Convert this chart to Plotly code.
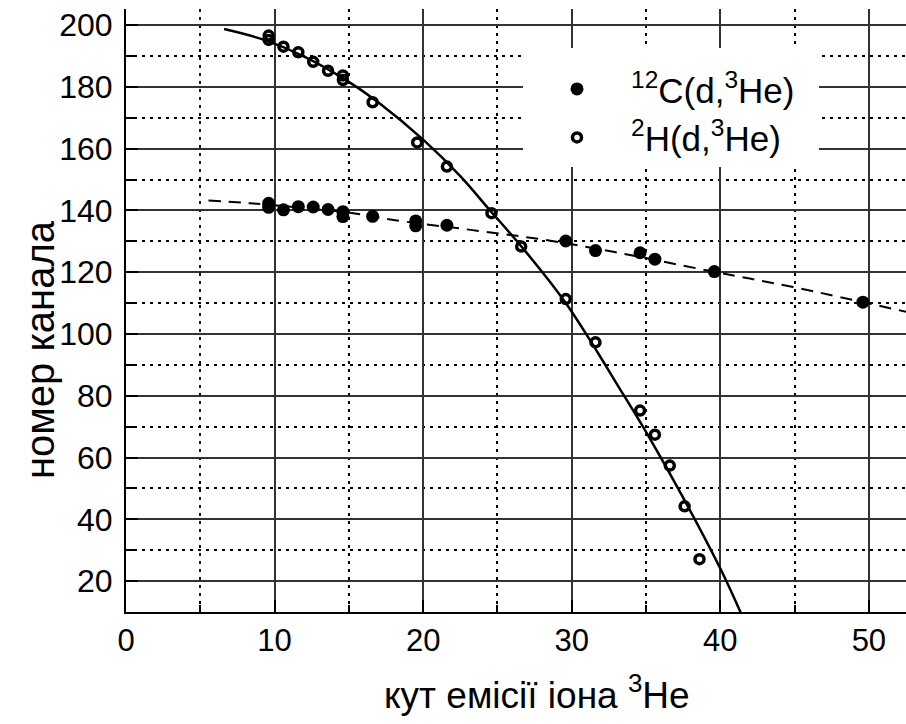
import plotly.graph_objects as go

# 12C(d,3He) points (filled)
c_x = [9.6, 9.6, 10.6, 11.6, 12.6, 13.6, 14.6, 14.6, 16.6, 19.5, 19.5, 21.6, 29.6, 31.6, 34.6, 35.6, 39.6, 49.6]
c_y = [142.3, 141.0, 140.2, 141.2, 141.1, 140.3, 139.6, 138.0, 138.1, 136.6, 135.0, 135.2, 130.1, 127.0, 126.3, 124.2, 120.2, 110.3]

# 2H(d,3He) points (open)
h_x = [9.6, 9.6, 10.6, 11.6, 12.6, 13.6, 14.6, 14.6, 16.6, 19.6, 21.6, 24.6, 26.6, 29.6, 31.6, 34.6, 35.6, 36.6, 37.6, 38.6]
h_y = [196.6, 195.2, 193.0, 191.2, 188.1, 185.2, 183.7, 182.2, 175.0, 162.0, 154.2, 139.1, 128.3, 111.3, 97.3, 75.2, 67.4, 57.4, 44.2, 27.1]

# fitted curves
fit_h_x = [6.6, 9.3, 12.0, 15.1, 17.1, 20.0, 22.5, 24.5, 26.6, 29.6, 33.5, 35.1, 37.5, 40.1, 41.4]
fit_h_y = [198.7, 195.2, 189.8, 181.3, 174.5, 162.9, 151.1, 140.0, 128.4, 110.0, 80.2, 67.5, 47.0, 23.1, 9.5]

fit_c_x = [5.55, 8.4, 15.3, 18.0, 23.2, 28.0, 32.8, 39.5, 44.9, 52.5]
fit_c_y = [143.2, 142.3, 139.1, 136.9, 133.7, 130.6, 126.6, 120.2, 115.2, 107.2]

x_ticks = [0, 10, 20, 30, 40, 50]
y_ticks = [20, 40, 60, 80, 100, 120, 140, 160, 180, 200]

FONT = "Liberation Sans, Arial, sans-serif"

fig = go.Figure()
fig.add_trace(go.Scatter(x=fit_h_x, y=fit_h_y, mode="lines", line=dict(color="black", width=2.5, shape="spline"),
                         showlegend=False, hoverinfo="skip"))
fig.add_trace(go.Scatter(x=fit_c_x, y=fit_c_y, mode="lines",
                         line=dict(color="black", width=2, dash="12px,8px", shape="spline"),
                         showlegend=False, hoverinfo="skip"))
fig.add_trace(go.Scatter(x=c_x, y=c_y, mode="markers", name="<sup>12</sup>C(d,<sup>3</sup>He)&nbsp;&nbsp;",
                         marker=dict(symbol="circle", size=13, color="black")))
fig.add_trace(go.Scatter(x=h_x, y=h_y, mode="markers", name="<sup>2</sup>H(d,<sup>3</sup>He)",
                         marker=dict(symbol="circle-open", size=9, color="black", line=dict(width=3.5, color="black"))))

axis_common = dict(
    showline=True, linecolor="black", linewidth=2,
    ticks="inside", ticklen=12, tickwidth=2, tickcolor="black",
    showgrid=True, gridcolor="#333333", gridwidth=1.5,
    zeroline=False, mirror=False,
)

fig.update_xaxes(
    **axis_common, range=[0, 52.5], tickvals=x_ticks,
    tickfont=dict(family=FONT, size=31, color="black"),
    minor=dict(dtick=10, tick0=5, showgrid=True, gridcolor="black", gridwidth=1.5, griddash="3px,5px",
               ticks="inside", ticklen=7, tickwidth=1.5, tickcolor="black"),
)
fig.update_yaxes(
    **axis_common, range=[10, 205.2], tickvals=y_ticks, ticklabelstandoff=5,
    tickfont=dict(family=FONT, size=32, color="black"),
    minor=dict(dtick=20, tick0=10, showgrid=True, gridcolor="black", gridwidth=1.5, griddash="3px,5px",
               ticks="inside", ticklen=8, tickwidth=1.5, tickcolor="black"),
)

fig.add_annotation(text="кут емісії іона <sup>3</sup>He", xref="paper", yref="paper",
                   x=(537 - 126) / 780, y=-(692 - 612) / 603, showarrow=False,
                   font=dict(family=FONT, size=37, color="black"),
                   xanchor="center", yanchor="middle")
fig.add_annotation(text="номер канала", xref="paper", yref="paper",
                   x=-(126 - 40) / 780, y=(612 - 350) / 603, showarrow=False, textangle=-90,
                   font=dict(family=FONT, size=40, color="black"),
                   xanchor="center", yanchor="middle")

fig.update_layout(
    width=906, height=724,
    margin=dict(l=126, r=0, t=9, b=112),
    paper_bgcolor="white", plot_bgcolor="white",
    showlegend=True,
    legend=dict(x=(523 - 126) / 780, y=(612 - 48) / 603, xanchor="left", yanchor="top",
                bgcolor="white", borderwidth=0,
                title=dict(text="&nbsp;", font=dict(size=9)),
                font=dict(family=FONT, size=35, color="black"),
                itemwidth=98, tracegroupgap=0),
)

fig.write_html("out.html")
